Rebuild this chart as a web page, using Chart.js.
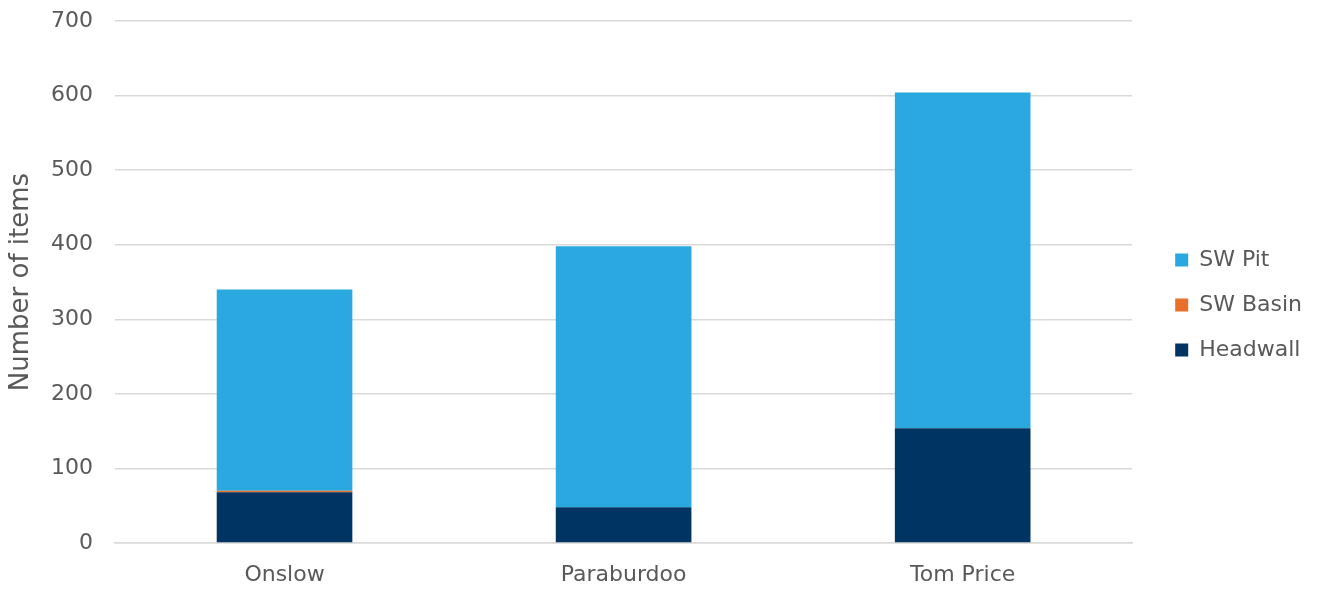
<!DOCTYPE html>
<html>
<head>
<meta charset="utf-8">
<script src="https://cdn.jsdelivr.net/npm/chart.js@4.4.1/dist/chart.umd.min.js"></script>
<style>
  html, body { margin: 0; padding: 0; background: #fff; }
  #wrap { width: 1325px; height: 589px; }
</style>
</head>
<body>
<div id="wrap"><canvas id="grafico" width="1325" height="589"></canvas></div>
<script>
const categories = ['Onslow', 'Paraburdoo', 'Tom Price'];
const headwall = [68, 48, 154];
const swBasin = [2, 0, 0];
const swPit = [270, 350, 450];
const yTicks = [0, 100, 200, 300, 400, 500, 600, 700];

const textColor = '#595959';
const fontFamily = '"DejaVu Sans", sans-serif';

const ctx = document.getElementById('grafico').getContext('2d');

const data = {
  labels: categories,
  datasets: [
    { label: 'Headwall', data: headwall, backgroundColor: '#003462' },
    { label: 'SW Basin', data: swBasin, backgroundColor: '#E8702A' },
    { label: 'SW Pit', data: swPit, backgroundColor: '#29A9E0' }
  ]
};

const config = {
  type: 'bar',
  data: data,
  options: {
    responsive: false,
    animation: false,
    layout: { padding: { left: 0, top: 21, right: 13, bottom: 0 } },
    datasets: {
      bar: { categoryPercentage: 1, barPercentage: 0.4 }
    },
    plugins: {
      legend: {
        position: 'right',
        reverse: true,
        labels: {
          color: textColor,
          font: { family: fontFamily, size: 22 },
          boxWidth: 13,
          boxHeight: 13,
          padding: 23
        }
      },
      tooltip: { enabled: false }
    },
    scales: {
      x: {
        stacked: true,
        grid: { display: false },
        border: { color: '#d9d9d9', width: 1.5 },
        afterFit: (axis) => { axis.height = 46; },
        ticks: { color: textColor, font: { family: fontFamily, size: 22 }, padding: 11 }
      },
      y: {
        stacked: true,
        min: 0,
        max: 700,
        afterBuildTicks: (axis) => { axis.ticks = yTicks.map(v => ({ value: v })); },
        afterFit: (axis) => {
          axis.width = 115;
          axis.paddingTop = 0;
          axis.paddingBottom = 0;
        },
        grid: { color: '#d9d9d9', lineWidth: 1.5, drawTicks: false },
        border: { display: false },
        ticks: { color: textColor, font: { family: fontFamily, size: 22 }, padding: 22 },
        title: {
          display: true,
          text: 'Number of items',
          color: textColor,
          font: { family: fontFamily, size: 26 },
          padding: { top: 6, bottom: 0 }
        }
      },
      gap: {
        position: 'right',
        display: true,
        grid: { display: false },
        border: { display: false },
        ticks: { display: false },
        afterFit: (axis) => { axis.width = 20; }
      }
    }
  }
};

const myChart = new Chart(ctx, config);
</script>
</body>
</html>
